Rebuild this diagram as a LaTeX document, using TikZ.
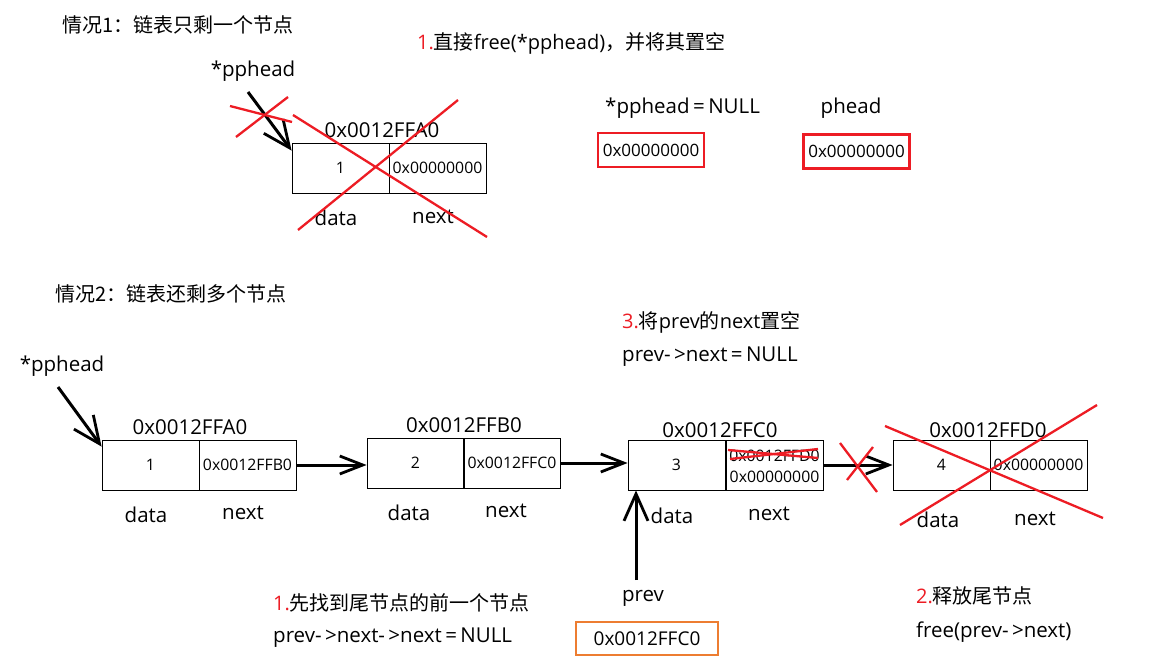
\documentclass[tikz,border=0pt]{standalone}
\usepackage{fontspec}
\setmainfont{Open Sans}
\newfontfamily\cjk{Noto Sans CJK SC}
\newfontfamily\lat{Open Sans}
\usetikzlibrary{arrows.meta,calc}
\definecolor{xred}{RGB}{237,28,36}
\definecolor{xorange}{RGB}{237,125,49}
\newcommand{\rn}[1]{\textcolor{xred}{#1}}
\begin{document}
\begin{tikzpicture}[x=1pt,y=-1pt,
  lbl/.style={inner sep=0pt, font=\fontsize{20.5}{24}\selectfont},
  zh/.style={inner sep=0pt, anchor=west, font=\cjk\fontsize{20}{24}\selectfont},
  cell/.style={draw, line width=0.8pt, minimum width=97pt, minimum height=50pt, inner sep=0pt, font=\fontsize{15.8}{18}\selectfont},
  ptr/.style={line width=3pt, -{Straight Barb[length=23pt,width=18pt,line width=2.8pt]}},
  bigptr/.style={line width=3pt, -{Straight Barb[length=27pt,width=24pt,line width=2.8pt]}},
  xline/.style={draw=xred, line width=2.3pt},
  regbox/.style={draw=xred, line width=2.8pt, minimum width=106pt, minimum height=34pt, inner sep=0pt, font=\fontsize{17}{20}\selectfont},
  prevbox/.style={draw=xorange, line width=2.8pt, minimum width=142pt, minimum height=33pt, inner sep=0pt, font=\fontsize{19}{22}\selectfont}
]
\useasboundingbox (0,0) rectangle (1162,668);
\fill[white] (0,0) rectangle (1162,668);

% ---------------- Case 1 ----------------
\node[zh] (t1) at (62,25) {情况1：链表只剩一个节点};
\node[zh] (s1) at (417,43) {\rn{\lat 1.}直接{\lat free(*pphead)}，并将其置空};
\node[lbl] (pp1) at (253,71) {*pphead};
\coordinate (pp1tail) at (248,92);

\node[cell] (c1d) at (340.5,168) {1};
\node[cell] (c1n) at (437.5,168) {0x00000000};
\node[lbl] (c1a) at (382,130) {0x0012FFA0};
\node[lbl] at (336,218) {data};
\node[lbl] at (433,217) {next};

\draw[bigptr] (pp1tail) -- ($(c1d.north west)+(0,8)$);

\draw[xline] (230,106) -- (292,122);
\draw[xline] (236,137) -- (288,97);
\draw[xline] (293,115) -- (487,237);
\draw[xline] (298,230) -- (458,100);

\node[lbl, anchor=west] (nul) at (605,108) {*pphead\,=\,NULL};
\node[regbox] (r1) at (651,150) {0x00000000};
\node[lbl] (ph) at (851,108) {phead};
\node[regbox] (r2) at (856.5,151.5) {0x00000000};

% ---------------- Case 2 ----------------
\node[zh] (t2) at (55,294) {情况2：链表还剩多个节点};
\node[zh] (s3) at (622,322) {\rn{\lat 3.}将{\lat prev}的{\lat next}置空};
\node[lbl, anchor=west] (s3b) at (622,357) {prev-\,>next\,=\,NULL};

\node[lbl] (pp2) at (62,366) {*pphead};
\coordinate (pp2tail) at (58,387);

\node[cell] (b1d) at (150.5,465) {1};
\node[cell] (b1n) at (247.5,465) {0x0012FFB0};
\node[lbl] at (190,427) {0x0012FFA0};
\node[lbl] at (146,515) {data};
\node[lbl] at (243,513) {next};

\node[cell] (b2d) at (415.5,463) {2};
\node[cell] (b2n) at (512,463) {0x0012FFC0};
\node[lbl] at (464,425) {0x0012FFB0};
\node[lbl] at (409,513) {data};
\node[lbl] at (506,511) {next};

\node[cell] (b3d) at (676.5,465) {3};
\node[cell] (b3n) at (774.5,465) {};
\node[inner sep=0pt, font=\fontsize{15.8}{18}\selectfont] (b3old) at (774.5,456) {0x0012FFD0};
\node[inner sep=0pt, font=\fontsize{15.8}{18}\selectfont] (b3new) at (774.5,477) {0x00000000};
\draw[xline] (728,450) -- (818,458);
\draw[xline] (730,459) -- (818,449);
\node[lbl] at (720,430) {0x0012FFC0};
\node[lbl] at (672,516) {data};
\node[lbl] at (769,514) {next};

\node[cell] (b4d) at (941.5,465) {4};
\node[cell] (b4n) at (1038.5,465) {0x00000000};
\node[lbl] at (988,430) {0x0012FFD0};
\node[lbl] at (938,520) {data};
\node[lbl] at (1035,519) {next};

\draw[bigptr] (pp2tail) -- ($(b1d.north west)+(0,7)$);
\draw[ptr] (b1n.east) -- (b2d.west |- b1n.east);
\draw[ptr] (b2n.east) -- (b3d.west |- b2n.east);
\draw[ptr] (b3n.east) -- (b4d.west);

\draw[xline] (840,443) -- (877,492);
\draw[xline] (847,480) -- (873,447);
\draw[xline] (885,426) -- (1103,518);
\draw[xline] (900,525) -- (1097,405);

\node[lbl] (prev) at (643,598) {prev};
\coordinate (prevtail) at (636,580);
\draw[bigptr] (prevtail) -- (prevtail |- b3d.south);
\node[prevbox] (pv) at (647,638.5) {0x0012FFC0};

\node[zh] (s1b) at (273,603) {\rn{\lat 1.}先找到尾节点的前一个节点};
\node[lbl, anchor=west] (s1c) at (273,638) {prev-\,>next-\,>next\,=\,NULL};
\node[zh] (s2) at (916,596) {\rn{\lat 2.}释放尾节点};
\node[lbl, anchor=west] (s2b) at (916,632) {free(prev-\,>next)};
\end{tikzpicture}
\end{document}
